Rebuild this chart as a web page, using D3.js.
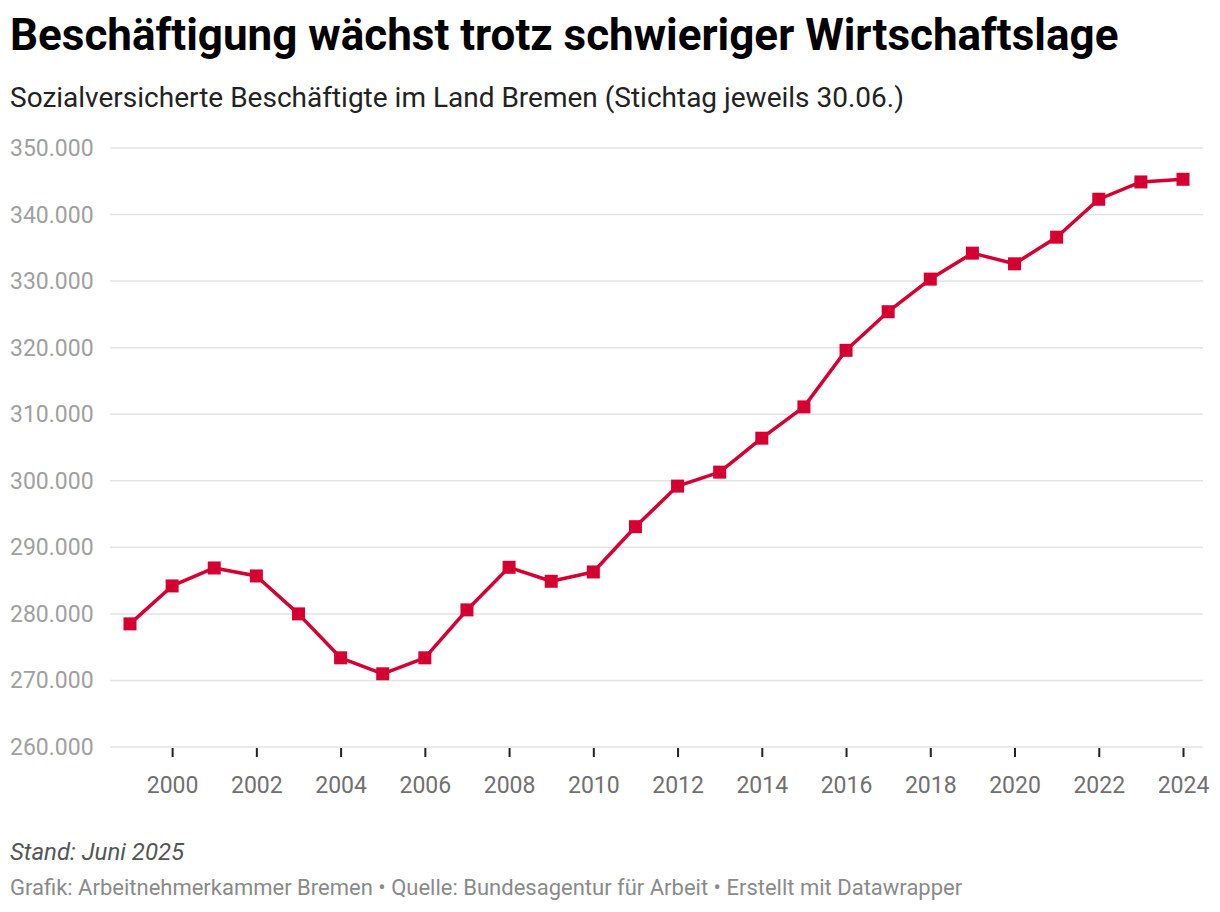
<!DOCTYPE html>
<html>
<head>
<meta charset="utf-8">
<script src="https://cdn.jsdelivr.net/npm/d3@7"></script>
<style>
  body { margin: 0; background: #fff; font-family: Roboto, sans-serif; }
  .title { font-weight: 700; font-size: 44px; fill: #000; }
  .subtitle { font-size: 28px; fill: #222; }
  .ytick { font-size: 23px; fill: #a0a0a0; }
  .x-axis text { font-size: 23px; fill: #707070; font-family: Roboto, sans-serif; }
  .note { font-size: 24px; font-style: italic; fill: #555; }
  .credit { font-size: 22px; fill: #8a8a8a; }
</style>
</head>
<body>
<div id="d3-container"></div>
<script>
/**
 * CONSTANTS AND GLOBALS
 * */
const width = 1220,
  height = 912,
  margin = { top: 148, bottom: 165, left: 110, right: 17 },
  markerSize = 13;

// DATA
const years = [1999, 2000, 2001, 2002, 2003, 2004, 2005, 2006, 2007, 2008, 2009, 2010, 2011,
  2012, 2013, 2014, 2015, 2016, 2017, 2018, 2019, 2020, 2021, 2022, 2023, 2024];
const employees = [278500, 284200, 286900, 285700, 280000, 273400, 271000, 273400, 280600, 287000,
  284900, 286300, 293100, 299200, 301300, 306400, 311100, 319600, 325400, 330300, 334200, 332600,
  336600, 342300, 344900, 345300];
const yTicks = [260000, 270000, 280000, 290000, 300000, 310000, 320000, 330000, 340000, 350000];
const xTicks = [2000, 2002, 2004, 2006, 2008, 2010, 2012, 2014, 2016, 2018, 2020, 2022, 2024];

const data = years.map((y, i) => ({ year: y, value: employees[i] }));

const svg = d3
  .select("#d3-container")
  .append("svg")
  .attr("width", width)
  .attr("height", height);

// HEADER
svg.append("text").attr("class", "title").attr("x", 10).attr("y", 50)
  .text("Beschäftigung wächst trotz schwieriger Wirtschaftslage");
svg.append("text").attr("class", "subtitle").attr("x", 10).attr("y", 107)
  .text("Sozialversicherte Beschäftigte im Land Bremen (Stichtag jeweils 30.06.)");

// SCALES
const xScale = d3.scaleLinear()
  .domain([1999, 2024])
  .range([130, 1183]);

const yScale = d3.scaleLinear()
  .domain([260000, 350000])
  .range([height - margin.bottom, margin.top]);

const fmt = d => d3.format(",")(d).replace(/,/g, ".");

// GRIDLINES + Y LABELS
const grid = svg.append("g").attr("class", "grid");
grid.selectAll("line")
  .data(yTicks)
  .join("line")
  .attr("x1", margin.left)
  .attr("x2", width - margin.right)
  .attr("y1", d => yScale(d))
  .attr("y2", d => yScale(d))
  .attr("stroke", "#e3e3e3")
  .attr("stroke-width", 1.5);

grid.selectAll("text")
  .data(yTicks)
  .join("text")
  .attr("class", "ytick")
  .attr("x", 10)
  .attr("y", d => yScale(d) + 8)
  .text(fmt);

// X AXIS
const xAxis = d3.axisBottom(xScale)
  .tickValues(xTicks)
  .tickFormat(d3.format("d"))
  .tickSize(9)
  .tickPadding(20);

svg.append("g")
  .attr("class", "x-axis")
  .attr("transform", `translate(0,${yScale(260000) + 1})`)
  .call(xAxis)
  .call(g => g.select(".domain").remove())
  .call(g => g.selectAll(".tick line").attr("stroke", "#222").attr("stroke-width", 2));

// LINE
const line = d3.line()
  .x(d => xScale(d.year))
  .y(d => yScale(d.value));

svg.append("path")
  .datum(data)
  .attr("fill", "none")
  .attr("stroke", "#d50032")
  .attr("stroke-width", 3.5)
  .attr("stroke-linejoin", "round")
  .attr("d", line);

svg.selectAll(".dot")
  .data(data)
  .join("rect")
  .attr("class", "dot")
  .attr("x", d => xScale(d.year) - markerSize / 2)
  .attr("y", d => yScale(d.value) - markerSize / 2)
  .attr("width", markerSize)
  .attr("height", markerSize)
  .attr("fill", "#d50032");

// FOOTER
svg.append("text").attr("class", "note").attr("x", 10).attr("y", 860)
  .text("Stand: Juni 2025");
svg.append("text").attr("class", "credit").attr("x", 10).attr("y", 895)
  .text("Grafik: Arbeitnehmerkammer Bremen • Quelle: Bundesagentur für Arbeit • Erstellt mit Datawrapper");
</script>
</body>
</html>
